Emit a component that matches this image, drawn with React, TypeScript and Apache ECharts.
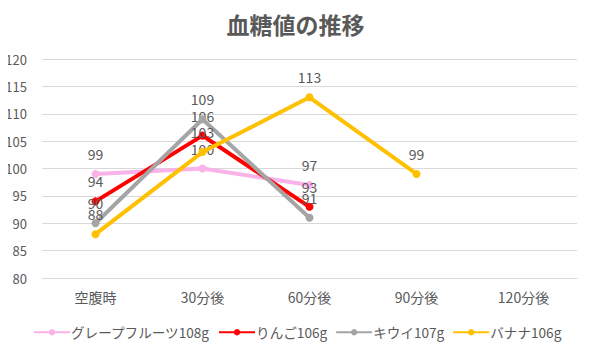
import React, { useEffect, useRef } from "react";
import * as echarts from "echarts";

const categories = ["空腹時", "30分後", "60分後", "90分後", "120分後"];
const grapefruit = [99, 100, 97, null, null];
const apple = [94, 106, 93, null, null];
const kiwi = [90, 109, 91, null, null];
const banana = [88, 103, 113, 99, null];
const seriesNames = ["グレープフルーツ108g", "りんご106g", "キウイ107g", "バナナ106g"];
const colors = ["#F9B3E8", "#FF0000", "#A5A5A5", "#FFC000"];

const FONT = "'Noto Sans CJK JP', 'Noto Sans', sans-serif";
const TXT = "#595959";

export default function App() {
  const ref = useRef<HTMLDivElement>(null);
  useEffect(() => {
    if (!ref.current) return;
    const chart = echarts.init(ref.current, null, { renderer: "svg" });
    const datas = [grapefruit, apple, kiwi, banana];
    chart.setOption({
      animation: false,
      textStyle: { fontFamily: FONT },
      title: {
        text: "血糖値の推移",
        left: "center",
        top: 7,
        textStyle: { fontSize: 23, fontWeight: "bold", color: TXT, fontFamily: FONT },
      },
      grid: { left: 42, right: 14, top: 59, bottom: 76 },
      legend: {
        bottom: 15,
        left: 33,
        padding: 0,
        itemWidth: 36,
        itemHeight: 8,
        itemGap: 8,
        textStyle: { fontSize: 13.6, color: TXT, fontFamily: FONT, padding: [0, 0, 0, -4] },
        data: seriesNames,
      },
      xAxis: {
        type: "category",
        data: categories,
        boundaryGap: true,
        axisLine: { lineStyle: { color: "#D9D9D9" } },
        axisTick: { show: false },
        axisLabel: { color: TXT, fontSize: 14, margin: 12, fontFamily: FONT },
      },
      yAxis: {
        type: "value",
        min: 80,
        max: 120,
        interval: 5,
        axisLine: { show: false },
        axisTick: { show: false },
        splitLine: { lineStyle: { color: "#D9D9D9" } },
        axisLabel: { color: TXT, fontSize: 13, margin: 15, fontFamily: FONT },
      },
      series: seriesNames.map((name, i) => ({
        name,
        type: "line",
        data: datas[i],
        symbol: "circle",
        symbolSize: 8,
        connectNulls: false,
        itemStyle: { color: colors[i] },
        lineStyle: { color: colors[i], width: 4 },
        label: {
          show: true,
          position: "top",
          distance: 9,
          color: TXT,
          fontSize: 14,
          fontFamily: FONT,
        },
        z: 2 + i,
      })),
    });
    return () => chart.dispose();
  }, []);
  return <div ref={ref} style={{ width: 591, height: 354, margin: -8 }} />;
}
